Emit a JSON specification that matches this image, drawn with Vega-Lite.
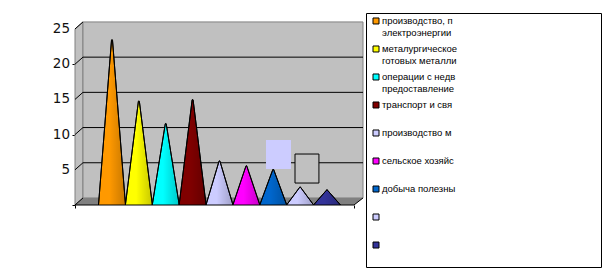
{"$schema":"https://vega.github.io/schema/vega-lite/v6.json","background":"white","padding":{"left":52,"top":12,"right":0,"bottom":0},"autosize":{"type":"pad"},"spacing":3,"bounds":"flush","config":{"view":{"stroke":null}},"datasets":{"cones":[{"i":1,"cat":"производство, п\nэлектроэнергии","base":0,"value":23.4,"c":"#ff9900"},{"i":2,"cat":"металургическое\nготовых металли","base":0,"value":14.7,"c":"#ffff00"},{"i":3,"cat":"операции с недв\nпредоставление","base":0,"value":11.5,"c":"#00ffff"},{"i":4,"cat":"транспорт и свя","base":0,"value":14.9,"c":"#800000"},{"i":5,"cat":"производство м","base":0,"value":6.2,"c":"#ccccff"},{"i":6,"cat":"сельское хозяйс","base":0,"value":5.5,"c":"#ff00ff"},{"i":7,"cat":"добыча полезны","base":0,"value":5.0,"c":"#0066cc"},{"i":8,"cat":"","base":0,"value":2.5,"c":"#ccccff"},{"i":9,"cat":"","base":0,"value":2.1,"c":"#333399"}]},"hconcat":[{"width":288,"height":192,"layer":[{"data":{"values":[{"x":-0.377,"a":0,"b":25},{"x":-0.08,"a":1,"b":26}]},"mark":{"type":"area","fill":"#c0c0c0","stroke":"#808080","strokeWidth":1},"encoding":{"x":{"field":"x","type":"quantitative","scale":{"domain":[-0.377,10.34],"nice":false,"zero":false},"axis":{"values":[-0.377,10.005],"labels":false,"domain":false,"grid":false,"tickColor":"black","tickSize":3,"title":null}},"y":{"field":"a","type":"quantitative","scale":{"domain":[0,27.27],"nice":false},"axis":{"values":[0,5,10,15,20,25],"labels":false,"domain":false,"grid":false,"tickColor":"black","tickSize":3,"title":null}},"y2":{"field":"b"}}},{"data":{"values":[{"y":0,"l":-0.377,"r":10.005},{"y":1,"l":-0.08,"r":10.34}]},"mark":{"type":"area","orient":"horizontal","fill":"#808080"},"encoding":{"y":{"field":"y","type":"quantitative"},"x":{"field":"l","type":"quantitative"},"x2":{"field":"r"}}},{"data":{"values":[{"l":-0.08,"r":10.34,"a":1,"b":26}]},"mark":{"type":"rect","fill":"#c0c0c0","stroke":"#808080","strokeWidth":1},"encoding":{"x":{"field":"l","type":"quantitative"},"x2":{"field":"r"},"y":{"field":"a","type":"quantitative"},"y2":{"field":"b"}}},{"data":{"values":[{"g":6},{"g":11},{"g":16},{"g":21}]},"mark":{"type":"rule","color":"black","strokeWidth":1},"encoding":{"y":{"field":"g","type":"quantitative"},"x":{"datum":-0.08},"x2":{"datum":10.34}}},{"data":{"values":[{"t":0,"x":-0.377,"y":0},{"t":0,"x":-0.08,"y":1},{"t":5,"x":-0.377,"y":5},{"t":5,"x":-0.08,"y":6},{"t":10,"x":-0.377,"y":10},{"t":10,"x":-0.08,"y":11},{"t":15,"x":-0.377,"y":15},{"t":15,"x":-0.08,"y":16},{"t":20,"x":-0.377,"y":20},{"t":20,"x":-0.08,"y":21},{"t":25,"x":-0.377,"y":25},{"t":25,"x":-0.08,"y":26},{"t":99,"x":10.005,"y":0},{"t":99,"x":10.34,"y":1}]},"mark":{"type":"line","color":"black","strokeWidth":1},"encoding":{"x":{"field":"x","type":"quantitative"},"y":{"field":"y","type":"quantitative"},"detail":{"field":"t"}}},{"data":{"name":"cones"},"transform":[{"fold":["base","value"],"as":["k","h"]}],"mark":{"type":"trail","clip":true,"stroke":"black","strokeWidth":1},"encoding":{"x":{"field":"i","type":"quantitative"},"y":{"field":"h","type":"quantitative"},"size":{"field":"k","type":"nominal","scale":{"domain":["base","value"],"range":[27,0]},"legend":null},"fill":{"field":"c","type":"nominal","scale":null},"detail":{"field":"i"}}},{"data":{"name":"cones"},"transform":[{"fold":["base","value"],"as":["k","h"]}],"mark":{"type":"trail","clip":true,"stroke":"black","strokeWidth":1,"fill":{"gradient":"linear","x1":0,"x2":1,"y1":0,"y2":0,"stops":[{"offset":0,"color":"rgba(0,0,0,0)"},{"offset":0.4,"color":"rgba(0,0,0,0)"},{"offset":1,"color":"rgba(0,0,0,0.22)"}]}},"encoding":{"x":{"field":"i","type":"quantitative"},"y":{"field":"h","type":"quantitative"},"size":{"field":"k","type":"nominal","scale":{"domain":["base","value"],"range":[27,0]},"legend":null},"detail":{"field":"i"}}},{"mark":{"type":"rect","fill":"#ccccff"},"data":{"values":[{"l":6.73,"r":7.66,"a":5.11,"b":9.23}]},"encoding":{"x":{"field":"l","type":"quantitative"},"x2":{"field":"r"},"y":{"field":"a","type":"quantitative"},"y2":{"field":"b"}}},{"mark":{"type":"rect","fill":"#c0c0c0","stroke":"black","strokeWidth":1},"data":{"values":[{"l":7.81,"r":8.7,"a":3.12,"b":7.24}]},"encoding":{"x":{"field":"l","type":"quantitative"},"x2":{"field":"r"},"y":{"field":"a","type":"quantitative"},"y2":{"field":"b"}}},{"mark":{"type":"rule","color":"black","strokeWidth":1},"data":{"values":[{"y":0,"l":-0.377,"r":10.005}]},"encoding":{"y":{"field":"y","type":"quantitative"},"x":{"field":"l","type":"quantitative"},"x2":{"field":"r"}}},{"data":{"values":[{"v":5},{"v":10},{"v":15},{"v":20},{"v":25}]},"mark":{"type":"text","align":"right","baseline":"middle","dx":-5,"font":"DejaVu Sans","fontSize":13.5,"color":"#111111"},"encoding":{"x":{"datum":-0.377},"y":{"field":"v","type":"quantitative"},"text":{"field":"v","type":"quantitative"}}}]},{"width":235,"height":254,"view":{"stroke":"black","strokeWidth":1,"fill":"white"},"data":{"name":"cones"},"layer":[{"mark":{"type":"point","shape":"square","filled":true,"size":36,"stroke":"black","strokeWidth":1,"opacity":1},"encoding":{"x":{"datum":10,"scale":{"domain":[0,235],"nice":false},"axis":null},"y":{"field":"i","type":"quantitative","scale":{"domain":[9.785,0.715],"nice":false,"zero":false},"axis":null},"fill":{"field":"c","type":"nominal","scale":null}}},{"mark":{"type":"text","align":"left","baseline":"middle","lineBreak":"\n","lineHeight":12,"font":"Liberation Sans","fontSize":9.5,"color":"black"},"encoding":{"x":{"datum":16},"y":{"field":"i","type":"quantitative"},"text":{"field":"cat"}}}]}]}
